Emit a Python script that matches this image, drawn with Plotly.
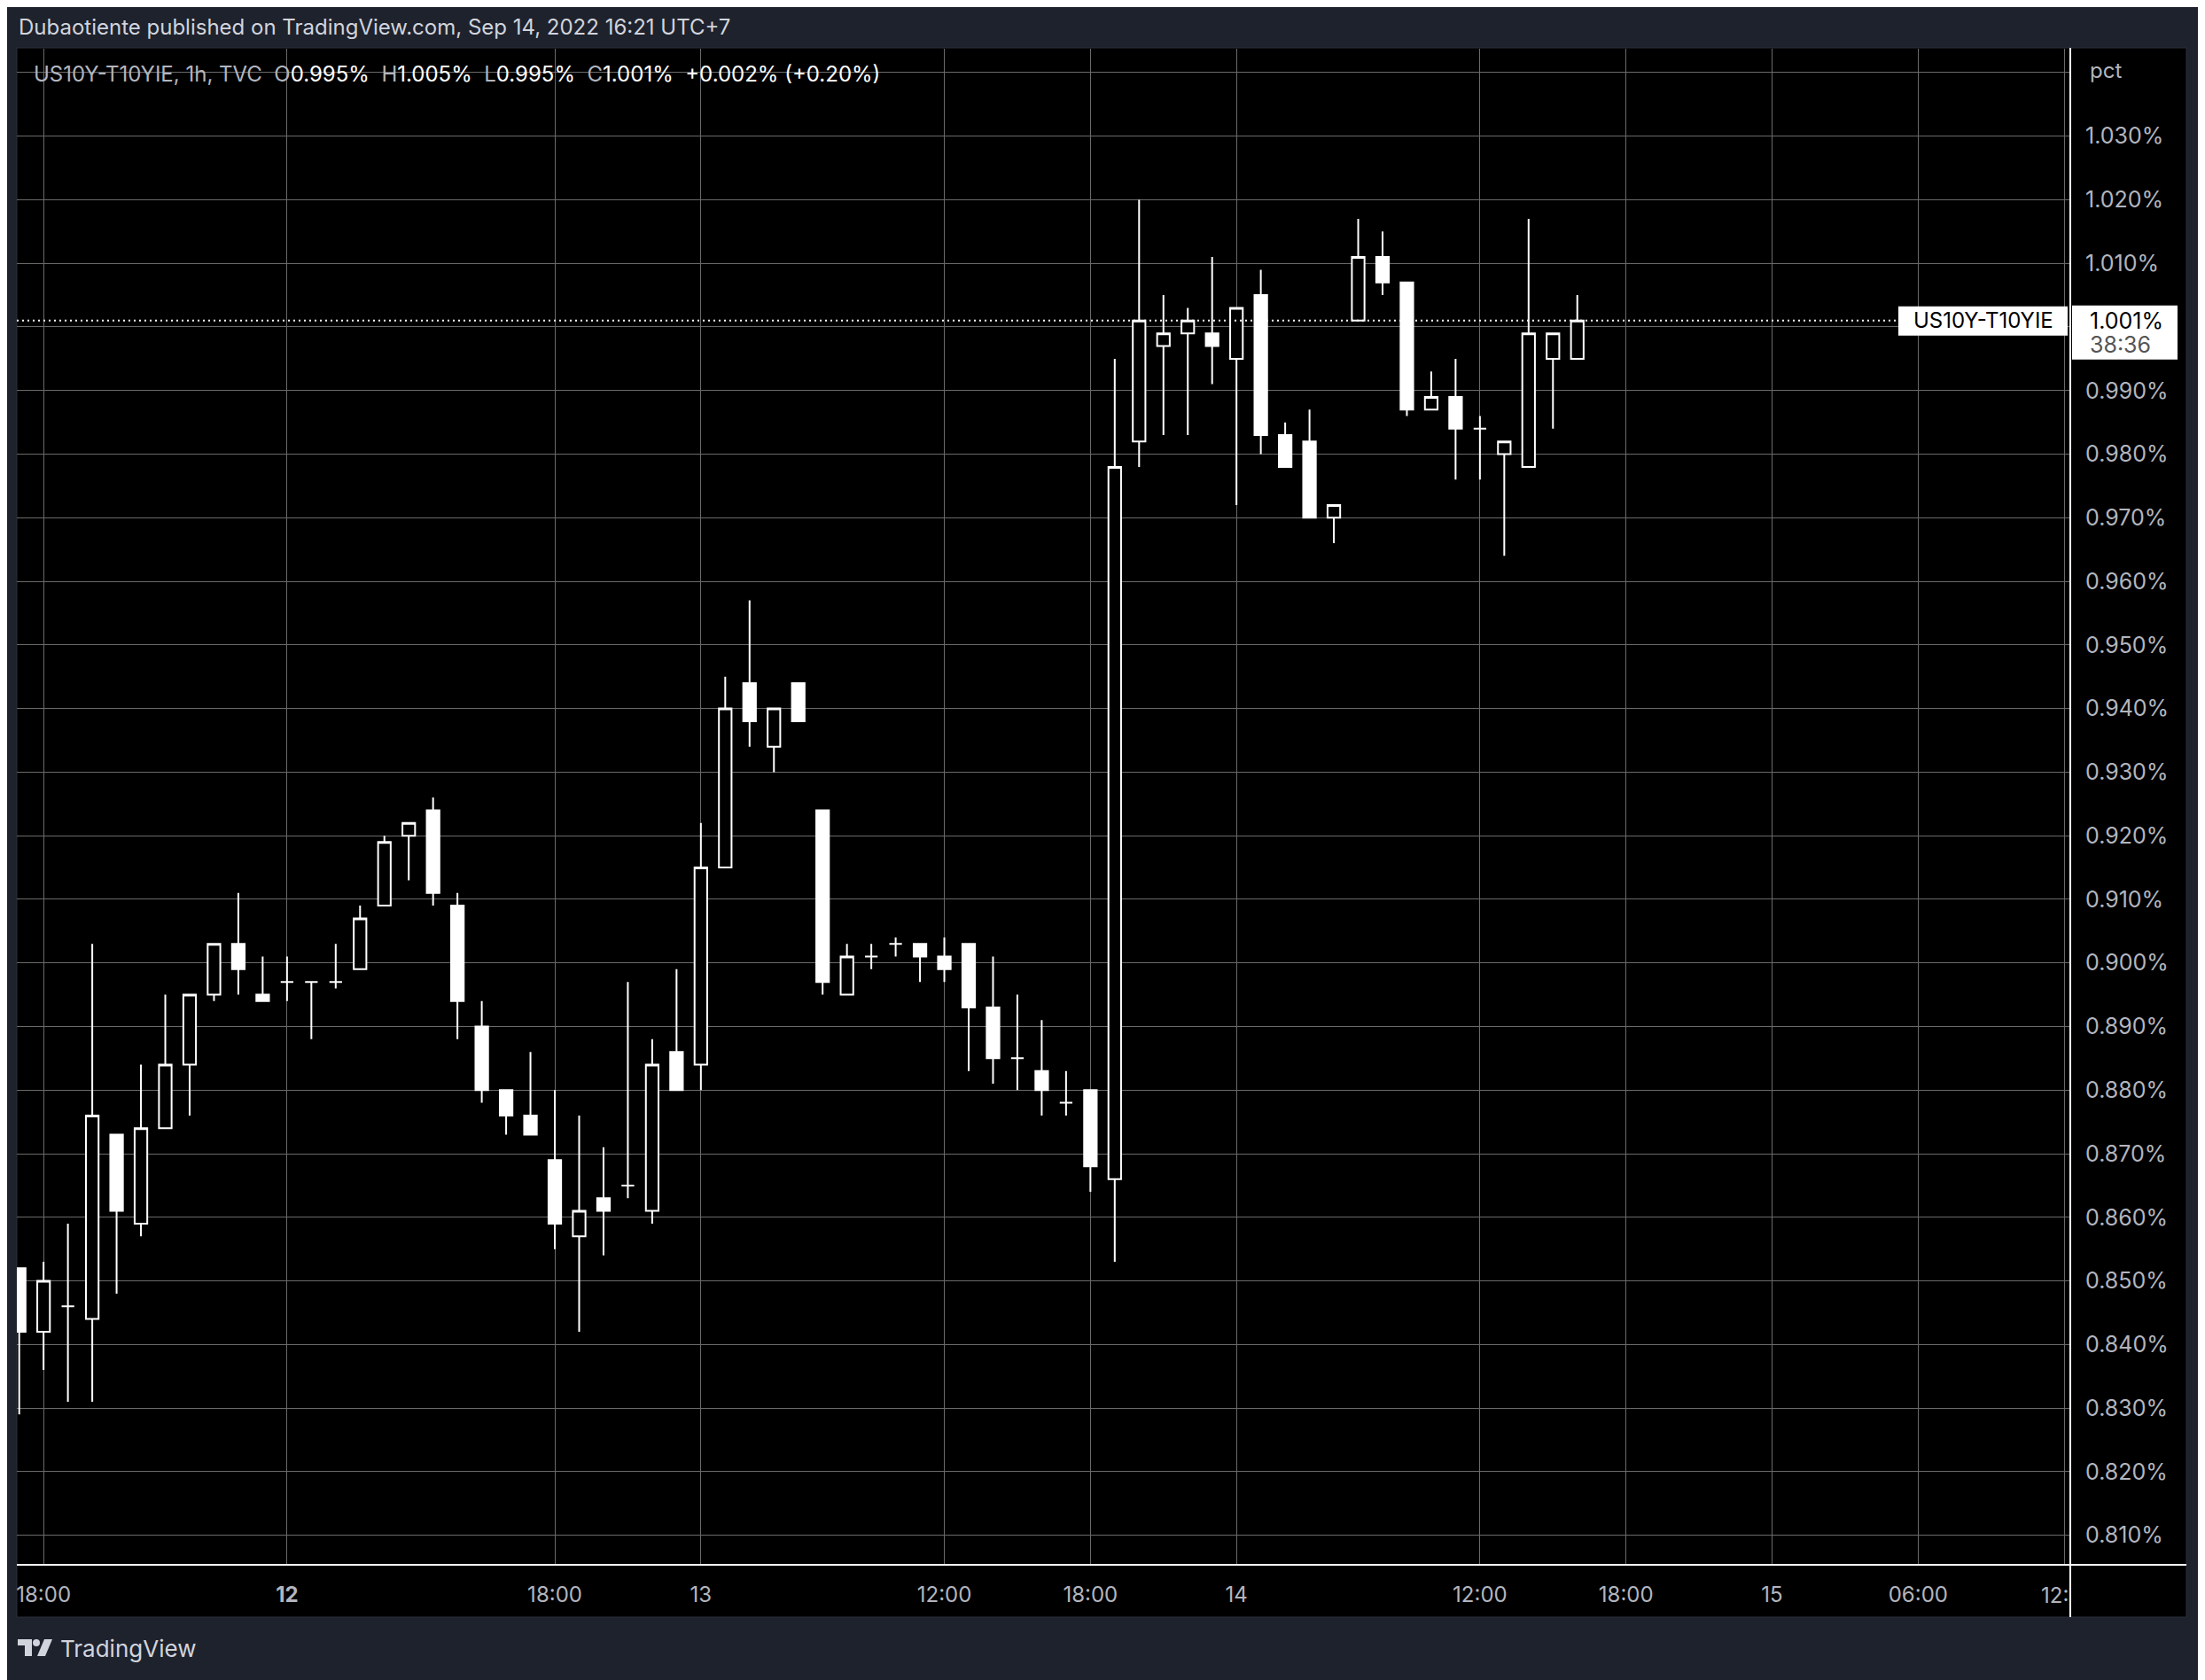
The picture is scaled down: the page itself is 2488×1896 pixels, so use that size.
import plotly.graph_objects as go

# ---------------- data ----------------
bar_index = list(range(65))
opens = [0.852, 0.842, 0.846, 0.844, 0.873, 0.859, 0.874, 0.884, 0.895, 0.903,
         0.895, 0.897, 0.897, 0.897, 0.899, 0.909, 0.920, 0.924, 0.909, 0.890,
         0.880, 0.876, 0.869, 0.857, 0.863, 0.865, 0.861, 0.886, 0.884, 0.915,
         0.944, 0.934, 0.944, 0.924, 0.895, 0.901, 0.903, 0.903, 0.901, 0.903,
         0.893, 0.885, 0.883, 0.878, 0.880, 0.866, 0.982, 0.997, 0.999, 0.999,
         0.995, 1.005, 0.983, 0.982, 0.970, 1.001, 1.011, 1.007, 0.987, 0.989,
         0.984, 0.980, 0.978, 0.995, 0.995]
highs = [0.852, 0.853, 0.859, 0.903, 0.873, 0.884, 0.895, 0.895, 0.903, 0.911,
         0.901, 0.901, 0.897, 0.903, 0.909, 0.920, 0.922, 0.926, 0.911, 0.894,
         0.880, 0.886, 0.880, 0.876, 0.871, 0.897, 0.888, 0.899, 0.922, 0.945,
         0.957, 0.940, 0.944, 0.924, 0.903, 0.903, 0.904, 0.903, 0.904, 0.903,
         0.901, 0.895, 0.891, 0.883, 0.880, 0.995, 1.020, 1.005, 1.003, 1.011,
         1.003, 1.009, 0.985, 0.987, 0.972, 1.017, 1.015, 1.007, 0.993, 0.995,
         0.986, 0.982, 1.017, 0.999, 1.005]
lows = [0.829, 0.836, 0.831, 0.831, 0.848, 0.857, 0.874, 0.876, 0.894, 0.895,
        0.894, 0.894, 0.888, 0.896, 0.899, 0.909, 0.913, 0.909, 0.888, 0.878,
        0.873, 0.873, 0.855, 0.842, 0.854, 0.863, 0.859, 0.880, 0.880, 0.915,
        0.934, 0.930, 0.938, 0.895, 0.895, 0.899, 0.901, 0.897, 0.897, 0.883,
        0.881, 0.880, 0.876, 0.876, 0.864, 0.853, 0.978, 0.983, 0.983, 0.991,
        0.972, 0.980, 0.978, 0.970, 0.966, 1.001, 1.005, 0.986, 0.987, 0.976,
        0.976, 0.964, 0.978, 0.984, 0.995]
closes = [0.842, 0.850, 0.846, 0.876, 0.861, 0.874, 0.884, 0.895, 0.903, 0.899,
          0.894, 0.897, 0.897, 0.897, 0.907, 0.919, 0.922, 0.911, 0.894, 0.880,
          0.876, 0.873, 0.859, 0.861, 0.861, 0.865, 0.884, 0.880, 0.915, 0.940,
          0.938, 0.940, 0.938, 0.897, 0.901, 0.901, 0.903, 0.901, 0.899, 0.893,
          0.885, 0.885, 0.880, 0.878, 0.868, 0.978, 1.001, 0.999, 1.001, 0.997,
          1.003, 0.983, 0.978, 0.970, 0.972, 1.011, 1.007, 0.987, 0.989, 0.984,
          0.984, 0.982, 0.999, 0.999, 1.001]

y_tick_vals = [0.810, 0.820, 0.830, 0.840, 0.850, 0.860, 0.870, 0.880, 0.890,
               0.900, 0.910, 0.920, 0.930, 0.940, 0.950, 0.960, 0.970, 0.980,
               0.990, 1.000, 1.010, 1.020, 1.030, 1.040]
# 1.000% sits under the last-price label and 1.040% under "pct": no text shown
y_tick_text = ["" if v in (1.000, 1.040) else f"{v:.3f}%" for v in y_tick_vals]
x_tick_idx = [1, 11, 22, 28, 38, 44, 50, 60, 66, 72, 78, 84]
x_tick_text = ["18:00", "<b>12</b>", "18:00", "13", "12:00", "18:00", "14",
               "12:00", "18:00", "15", "06:00", ""]
symbol = "US10Y-T10YIE"
last_price = 1.001
countdown = "38:36"
header = "Dubaotiente published on TradingView.com, Sep 14, 2022 16:21 UTC+7"

# ---------------- layout geometry ----------------
W, H = 2488, 1896
OFF = 8                                    # page body margin compensation
PL, PR, PT, PB = 19 - OFF, 2336 - OFF, 55 - OFF, 1766 - OFF   # plot area in px
FONT = "Inter"
GRAY = "#b2b5be"
GRID = "#6a6a6a"


def px(x):
    """reference pixel x -> paper"""
    return (x - OFF - PL) / (PR - PL)


def py(y):
    """reference pixel y -> paper"""
    return (PB - (y - OFF)) / (PB - PT)


fig = go.Figure(go.Candlestick(
    x=bar_index, open=opens, high=highs, low=lows, close=closes,
    increasing=dict(line=dict(color="#ffffff", width=2), fillcolor="#000000"),
    decreasing=dict(line=dict(color="#ffffff", width=2), fillcolor="#ffffff"),
    whiskerwidth=0, showlegend=False, hoverinfo="skip",
))

fig.update_layout(
    width=W, height=H,
    margin=dict(l=PL, r=W - PR, t=PT, b=H - PB, autoexpand=False),
    paper_bgcolor="#1e222d", plot_bgcolor="#000000",
    boxgap=0.26, showlegend=False,
    font=dict(family=FONT, color=GRAY, size=24),
    xaxis=dict(
        range=[-0.098, 84.25], tickmode="array", tickvals=x_tick_idx, ticktext=x_tick_text,
        showgrid=True, gridcolor=GRID, gridwidth=1.3, zeroline=False, showline=False,
        ticks="", ticklabelstandoff=17, tickfont=dict(family=FONT, size=24, color=GRAY),
        rangeslider=dict(visible=False), fixedrange=True,
    ),
    yaxis=dict(
        side="right", range=[0.80535, 1.04375], tickmode="array",
        tickvals=y_tick_vals, ticktext=y_tick_text,
        showgrid=True, gridcolor=GRID, gridwidth=1.3, zeroline=False, showline=False,
        ticks="", ticklabelstandoff=16, tickfont=dict(family=FONT, size=25, color=GRAY),
        fixedrange=True,
    ),
)

shapes = [
    # black chart box incl. axis areas
    dict(type="rect", xref="paper", yref="paper", x0=px(19), x1=px(2467), y0=py(1825), y1=py(54),
         fillcolor="#000000", line=dict(color="#2a2e39", width=1), layer="below"),
    # last price dotted line
    dict(type="line", xref="paper", yref="y", x0=0, x1=1, y0=last_price, y1=last_price,
         line=dict(color="#ffffff", width=2, dash="2px,4px"), layer="above"),
    # axis borders
    dict(type="line", xref="paper", yref="paper", x0=1, x1=1, y0=py(1825), y1=py(54),
         line=dict(color="#ffffff", width=2), layer="above"),
    dict(type="line", xref="paper", yref="paper", x0=0, x1=px(2467), y0=0, y1=0,
         line=dict(color="#ffffff", width=2), layer="above"),
    # symbol label box on the last-price line
    dict(type="rect", xref="paper", yref="y", ysizemode="pixel", yanchor=last_price,
         x0=px(2142), x1=px(2333), y0=-17, y1=16,
         fillcolor="#ffffff", line=dict(width=0), layer="above"),
    # price label box on the axis
    dict(type="rect", xref="paper", yref="y", ysizemode="pixel", yanchor=last_price,
         x0=px(2338), x1=px(2457), y0=-44, y1=17,
         fillcolor="#ffffff", line=dict(width=0), layer="above"),
]

# TradingView logo (approximate)
LOGO = "#d1d4dc"
shapes += [
    dict(type="rect", xref="paper", yref="paper", x0=px(20), x1=px(36), y0=py(1857), y1=py(1850),
         fillcolor=LOGO, line=dict(width=0)),
    dict(type="rect", xref="paper", yref="paper", x0=px(28), x1=px(36), y0=py(1869), y1=py(1850),
         fillcolor=LOGO, line=dict(width=0)),
    dict(type="circle", xref="paper", yref="paper", x0=px(37), x1=px(45), y0=py(1858), y1=py(1850),
         fillcolor=LOGO, line=dict(width=0)),
    dict(type="path", xref="paper", yref="paper",
         path=f"M {px(42)},{py(1869)} L {px(50)},{py(1850)} L {px(59)},{py(1850)} L {px(51)},{py(1869)} Z",
         fillcolor=LOGO, line=dict(width=0)),
]
fig.update_layout(shapes=shapes)

NB = "\u00a0"
legend = (f"<span style='color:{GRAY}'>{symbol}, 1h, TVC{NB}{NB}O</span>"
          f"<span style='color:#ffffff'>{opens[-1]:.3f}%</span>{NB}{NB}"
          f"<span style='color:{GRAY}'>H</span><span style='color:#ffffff'>{highs[-1]:.3f}%</span>{NB}{NB}"
          f"<span style='color:{GRAY}'>L</span><span style='color:#ffffff'>{lows[-1]:.3f}%</span>{NB}{NB}"
          f"<span style='color:{GRAY}'>C</span><span style='color:#ffffff'>{closes[-1]:.3f}%</span>{NB}{NB}"
          f"<span style='color:#ffffff'>+0.002% (+0.20%)</span>")

annotations = [
    dict(text=header, xref="paper", yref="paper", x=px(19), y=py(30), xanchor="left", yanchor="middle",
         showarrow=False, font=dict(family=FONT, size=24, color="#d1d4dc")),
    dict(text=legend, xref="paper", yref="paper", x=px(36), y=py(84), xanchor="left", yanchor="middle",
         showarrow=False, font=dict(family=FONT, size=24, color=GRAY)),
    dict(text="pct", xref="paper", yref="paper", x=px(2356), y=py(79), xanchor="left", yanchor="middle",
         showarrow=False, font=dict(family=FONT, size=24, color=GRAY)),
    dict(text="12:", xref="paper", yref="paper", x=1, y=py(1800), xanchor="right", yanchor="middle",
         showarrow=False, font=dict(family=FONT, size=24, color=GRAY)),
    dict(text=symbol, xref="paper", yref="y", x=px(2238), y=last_price, xanchor="center", yanchor="middle",
         showarrow=False, font=dict(family=FONT, size=24, color="#000000")),
    dict(text=f"{last_price:.3f}%", xref="paper", yref="y", x=px(2356), y=last_price,
         xanchor="left", yanchor="middle", showarrow=False,
         font=dict(family=FONT, size=25, color="#000000")),
    dict(text=countdown, xref="paper", yref="y", x=px(2356), y=last_price, yshift=-27,
         xanchor="left", yanchor="middle", showarrow=False,
         font=dict(family=FONT, size=25, color="#555555")),
    dict(text="TradingView", xref="paper", yref="paper", x=px(66), y=py(1860), xanchor="left",
         yanchor="middle", showarrow=False, font=dict(family=FONT, size=26, color="#d1d4dc")),
]
fig.update_layout(annotations=annotations)

fig.write_html("out.html")
